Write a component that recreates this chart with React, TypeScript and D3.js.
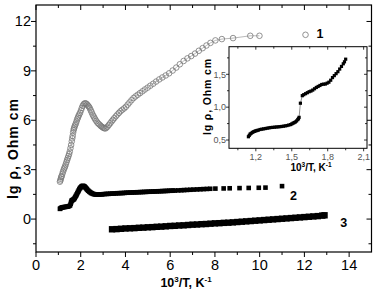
import React from "react";
import * as d3 from "d3";

// ---- data ----
const series1: [number, number][] = [
  [1.07,2.27],[1.09,2.35],[1.11,2.45],[1.13,2.55],[1.15,2.62],[1.18,2.75],[1.21,2.88],[1.24,3.0],[1.27,3.1],[1.3,3.2],
  [1.33,3.32],[1.36,3.45],[1.39,3.58],[1.42,3.7],[1.45,3.82],[1.48,3.95],[1.51,4.1],[1.54,4.3],[1.57,4.5],[1.6,4.72],
  [1.62,4.9],[1.64,5.05],[1.66,5.25],[1.68,5.4],[1.7,5.5],[1.72,5.6],[1.75,5.7],[1.78,5.8],[1.81,5.92],[1.84,6.05],
  [1.87,6.15],[1.9,6.25],[1.93,6.35],[1.97,6.45],[2.01,6.6],[2.05,6.75],[2.09,6.88],[2.13,6.97],[2.17,7.02],[2.21,7.03],
  [2.25,7.0],[2.29,6.95],[2.33,6.88],[2.37,6.82],[2.41,6.72],[2.45,6.6],[2.49,6.48],[2.53,6.35],[2.57,6.25],[2.61,6.15],
  [2.65,6.05],[2.7,5.95],[2.75,5.85],[2.8,5.78],[2.85,5.72],[2.9,5.65],[2.95,5.6],[3.0,5.55],[3.05,5.52],[3.1,5.5],
  [3.15,5.55],[3.2,5.62],[3.26,5.72],[3.32,5.82],[3.38,5.93],[3.44,6.03],[3.5,6.13],[3.57,6.24],[3.64,6.35],[3.71,6.45],
  [3.78,6.55],[3.86,6.64],[3.94,6.72],[4.02,6.82],[4.1,6.95],[4.18,7.08],[4.27,7.22],[4.36,7.35],[4.45,7.45],[4.55,7.55],
  [4.65,7.65],[4.76,7.76],[4.87,7.87],[4.99,7.98],[5.11,8.1],[5.24,8.22],[5.37,8.35],[5.51,8.48],[5.65,8.6],[5.8,8.72],
  [5.95,8.85],[6.11,9.02],[6.27,9.2],[6.43,9.4],[6.6,9.6],[6.77,9.76],[6.94,9.9],[7.11,10.05],[7.28,10.22],[7.45,10.38],
  [7.62,10.54],[7.8,10.7],[8.02,10.85],[8.31,10.93],[8.81,10.99],[9.58,11.13],[9.99,11.13],
];

const series2: [number, number][] = [
  [1.07,0.62],[1.1,0.66],[1.14,0.69],[1.18,0.71],[1.22,0.72],[1.27,0.73],[1.32,0.74],[1.37,0.75],[1.42,0.76],[1.47,0.78],
  [1.52,0.82],[1.55,0.92],[1.57,1.02],[1.59,1.1],[1.61,1.14],[1.64,1.16],[1.67,1.18],[1.7,1.22],[1.73,1.28],[1.76,1.35],
  [1.79,1.42],[1.82,1.5],[1.85,1.58],[1.88,1.66],[1.91,1.74],[1.94,1.82],[1.97,1.88],[2.0,1.93],[2.03,1.97],[2.06,2.0],
  [2.09,2.01],[2.12,2.01],[2.15,1.99],[2.18,1.96],[2.21,1.92],[2.24,1.87],[2.27,1.82],[2.3,1.77],[2.34,1.72],[2.38,1.67],
  [2.42,1.63],[2.46,1.59],[2.5,1.56],[2.55,1.53],[2.6,1.51],[2.65,1.5],[2.7,1.49],[2.76,1.49],[2.82,1.49],[2.88,1.5],
  [2.94,1.5],[3.0,1.51],[3.08,1.52],[3.16,1.53],[3.24,1.53],[3.32,1.54],[3.4,1.55],[3.48,1.55],[3.56,1.56],[3.64,1.57],
  [3.72,1.57],[3.8,1.58],[3.88,1.58],[3.96,1.59],[4.04,1.6],[4.12,1.6],[4.2,1.61],[4.28,1.61],[4.36,1.62],[4.44,1.62],
  [4.52,1.63],[4.6,1.63],[4.68,1.64],[4.76,1.64],[4.84,1.65],[4.92,1.65],[5.0,1.66],[5.08,1.66],[5.16,1.67],[5.24,1.67],
  [5.32,1.68],[5.4,1.68],[5.48,1.69],[5.56,1.69],[5.64,1.7],[5.72,1.7],[5.8,1.71],[5.88,1.71],[5.96,1.72],[6.04,1.72],
  [6.12,1.73],[6.2,1.73],[6.36,1.74],[6.5,1.75],[6.62,1.76],[6.75,1.77],[6.9,1.78],[7.04,1.79],[7.2,1.8],[7.35,1.81],
  [7.49,1.82],[7.64,1.83],[7.79,1.84],[8.02,1.85],[8.39,1.86],[8.66,1.87],[9.1,1.88],[9.51,1.89],[9.96,1.9],[10.26,1.91],
  [11.0,2.0],
];

const series3: [number, number][] = [
  [3.4,-0.62],[3.6,-0.61],[3.8,-0.59],[4.0,-0.57],[4.2,-0.56],[4.4,-0.55],[4.6,-0.53],[4.8,-0.52],[5.0,-0.5],[5.2,-0.49],
  [5.4,-0.47],[5.6,-0.46],[5.8,-0.44],[6.0,-0.42],[6.2,-0.41],[6.4,-0.39],[6.6,-0.38],[6.8,-0.36],[7.0,-0.34],[7.2,-0.33],
  [7.4,-0.31],[7.6,-0.3],[7.8,-0.28],[8.0,-0.26],[8.2,-0.25],[8.4,-0.23],[8.6,-0.22],[8.8,-0.2],[9.0,-0.18],[9.2,-0.16],
  [9.4,-0.14],[9.6,-0.12],[9.8,-0.1],[10.0,-0.08],[10.2,-0.06],[10.4,-0.04],[10.6,-0.02],[10.8,0.0],[11.0,0.02],[11.2,0.04],
  [11.4,0.06],[11.6,0.08],[11.8,0.1],[12.0,0.12],[12.2,0.14],[12.4,0.16],[12.6,0.18],[12.8,0.21],[12.9,0.23],
];

const insetSeries: [number, number][] = [
  [1.138,0.55],[1.145,0.57],[1.152,0.59],[1.16,0.6],[1.17,0.615],[1.18,0.625],[1.19,0.632],[1.2,0.64],[1.21,0.645],[1.22,0.65],
  [1.235,0.66],[1.25,0.665],[1.265,0.67],[1.28,0.675],[1.295,0.68],[1.31,0.685],[1.325,0.69],[1.34,0.692],[1.355,0.695],[1.37,0.698],
  [1.385,0.7],[1.4,0.703],[1.415,0.706],[1.43,0.71],[1.445,0.715],[1.46,0.72],[1.475,0.728],[1.49,0.735],[1.5,0.745],[1.51,0.755],
  [1.52,0.765],[1.53,0.775],[1.54,0.79],[1.55,0.81],[1.556,0.825],[1.561,0.845],[1.572,1.06],[1.588,1.175],[1.6,1.19],[1.615,1.205],
  [1.63,1.22],[1.645,1.235],[1.66,1.245],[1.675,1.26],[1.69,1.28],[1.705,1.3],[1.72,1.315],[1.735,1.33],[1.75,1.345],[1.765,1.35],
  [1.78,1.352],[1.795,1.365],[1.81,1.38],[1.825,1.41],[1.84,1.45],[1.855,1.48],[1.87,1.51],[1.885,1.54],[1.9,1.58],[1.915,1.62],
  [1.93,1.66],[1.94,1.69],[1.95,1.73],
];

const legend1: [number, number] = [12.05, 11.19];

const xTicksMain = [0, 2, 4, 6, 8, 10, 12, 14];
const xMinorMain = [1, 3, 5, 7, 9, 11, 13];
const yTicksMain = [0, 3, 6, 9, 12];
const yMinorMain = [-1.5, 1.5, 4.5, 7.5, 10.5];
const xTicksInset = [1.2, 1.5, 1.8, 2.1];
const xMinorInset = [1.05, 1.35, 1.65, 1.95];
const yTicksInset = [0.5, 1.0, 1.5];
const yMinorInset = [0.75, 1.25, 1.75];
const fmtComma = (v: number) => v.toFixed(1).replace(".", ",");

const FONT = "'Liberation Sans', Arial, sans-serif";

export default function App() {
  // main frame
  const L = 36, R = 371.5, T = 5, B = 252;
  const x = d3.scaleLinear().domain([0, 15]).range([L, R]);
  const y = d3.scaleLinear().domain([-2, 13]).range([B, T]);

  // inset frame
  const iL = 229, iR = 367, iT = 46.7, iB = 148.3;
  const ix = d3.scaleLinear().domain([0.976, 2.128]).range([iL, iR]);
  const iy = d3.scaleLinear().domain([0.374, 1.92]).range([iB, iT]);

  const line1 = d3.line<[number, number]>().x((d) => x(d[0])).y((d) => y(d[1]));
  const lineIn = d3.line<[number, number]>().x((d) => ix(d[0])).y((d) => iy(d[1]));

  const maj = 5, min = 3;

  return (
    <div style={{ position: "absolute", left: 0, top: 0 }}>
      <svg width={376} height={297} style={{ display: "block", background: "#fff" }} fontFamily={FONT}>
        <rect x={0} y={0} width={376} height={297} fill="#fff" />

        {/* series 1 */}
        <path d={line1(series1) || ""} fill="none" stroke="#888" strokeWidth={0.6} />
        {series1.map((d, i) => (
          <circle key={"c1" + i} cx={x(d[0])} cy={y(d[1])} r={2.8} fill="none" stroke="#777" strokeWidth={0.8} />
        ))}
        {/* series 2 */}
        {series2.map((d, i) => (
          <rect key={"s2" + i} x={x(d[0]) - 2.3} y={y(d[1]) - 2.3} width={4.6} height={4.6} fill="#000" />
        ))}
        {/* series 3 */}
        {series3.map((d, i) => (
          <rect key={"s3" + i} x={x(d[0]) - 3.2} y={y(d[1]) - 3.2} width={6.4} height={6.4} fill="#000" />
        ))}

        {/* labels */}
        <circle cx={x(legend1[0])} cy={y(legend1[1])} r={2.8} fill="none" stroke="#777" strokeWidth={0.8} />
        <text x={320} y={38} fontSize={12.5} fontWeight="bold" textAnchor="middle">1</text>
        <text x={293.5} y={200} fontSize={12.5} fontWeight="bold" textAnchor="middle">2</text>
        <text x={343.7} y={227} fontSize={12.5} fontWeight="bold" textAnchor="middle">3</text>

        {/* main frame */}
        <rect x={L} y={T} width={R - L} height={B - T} fill="none" stroke="#000" strokeWidth={1.2} />
        {xTicksMain.map((t) => (
          <g key={"xt" + t}>
            <line x1={x(t)} x2={x(t)} y1={B} y2={B + maj} stroke="#000" strokeWidth={1} />
            <line x1={x(t)} x2={x(t)} y1={T} y2={T + maj} stroke="#000" strokeWidth={1} />
            <text x={x(t)} y={270} fontSize={14.5} textAnchor="middle">{t}</text>
          </g>
        ))}
        {xMinorMain.map((t) => (
          <g key={"xm" + t}>
            <line x1={x(t)} x2={x(t)} y1={B} y2={B + min} stroke="#000" strokeWidth={1} />
            <line x1={x(t)} x2={x(t)} y1={T} y2={T + min} stroke="#000" strokeWidth={1} />
          </g>
        ))}
        {yTicksMain.map((t) => (
          <g key={"yt" + t}>
            <line x1={L - maj} x2={L} y1={y(t)} y2={y(t)} stroke="#000" strokeWidth={1} />
            <line x1={R - maj} x2={R} y1={y(t)} y2={y(t)} stroke="#000" strokeWidth={1} />
            <text x={31} y={y(t) + 5} fontSize={14.5} textAnchor="end">{t}</text>
          </g>
        ))}
        {yMinorMain.map((t) => (
          <g key={"ym" + t}>
            <line x1={L - min} x2={L} y1={y(t)} y2={y(t)} stroke="#000" strokeWidth={1} />
            <line x1={R - min} x2={R} y1={y(t)} y2={y(t)} stroke="#000" strokeWidth={1} />
          </g>
        ))}
        <text x={186} y={287} fontSize={12.5} fontWeight="bold" textAnchor="middle">
          10<tspan dy={-5} fontSize={8}>3</tspan><tspan dy={5}>/T, K</tspan><tspan dy={-5} fontSize={8}>-1</tspan>
        </text>
        <text transform="translate(18,149) rotate(-90)" fontSize={14} fontWeight="bold" textAnchor="middle"
          textLength={100} lengthAdjust="spacing">lg ρ, Ohm cm</text>

        {/* inset */}
        <rect x={iL} y={iT} width={iR - iL} height={iB - iT} fill="#fff" />
        <path d={lineIn(insetSeries) || ""} fill="none" stroke="#444" strokeWidth={0.6} />
        {insetSeries.map((d, i) => (
          <rect key={"in" + i} x={ix(d[0]) - 1.6} y={iy(d[1]) - 1.6} width={3.2} height={3.2} fill="#000" />
        ))}
        <rect x={iL} y={iT} width={iR - iL} height={iB - iT} fill="none" stroke="#000" strokeWidth={1} />
        {xTicksInset.map((t) => (
          <g key={"ixt" + t}>
            <line x1={ix(t)} x2={ix(t)} y1={iB} y2={iB + 3} stroke="#000" strokeWidth={0.8} />
            <line x1={ix(t)} x2={ix(t)} y1={iT} y2={iT + 3} stroke="#000" strokeWidth={0.8} />
            <text x={ix(t)} y={160} fontSize={9} textAnchor="middle" fill="#555">{fmtComma(t)}</text>
          </g>
        ))}
        {xMinorInset.map((t) => (
          <g key={"ixm" + t}>
            <line x1={ix(t)} x2={ix(t)} y1={iB} y2={iB + 2} stroke="#000" strokeWidth={0.8} />
            <line x1={ix(t)} x2={ix(t)} y1={iT} y2={iT + 2} stroke="#000" strokeWidth={0.8} />
          </g>
        ))}
        {yTicksInset.map((t) => (
          <g key={"iyt" + t}>
            <line x1={iL - 3} x2={iL} y1={iy(t)} y2={iy(t)} stroke="#000" strokeWidth={0.8} />
            <line x1={iR - 3} x2={iR} y1={iy(t)} y2={iy(t)} stroke="#000" strokeWidth={0.8} />
            <text x={226} y={iy(t) + 3.2} fontSize={9} textAnchor="end" fill="#555">{fmtComma(t)}</text>
          </g>
        ))}
        {yMinorInset.map((t) => (
          <g key={"iym" + t}>
            <line x1={iL - 2} x2={iL} y1={iy(t)} y2={iy(t)} stroke="#000" strokeWidth={0.8} />
            <line x1={iR - 2} x2={iR} y1={iy(t)} y2={iy(t)} stroke="#000" strokeWidth={0.8} />
          </g>
        ))}
        <text x={311} y={171} fontSize={10} fontWeight="bold" textAnchor="middle">
          10<tspan dy={-4} fontSize={6.5}>3</tspan><tspan dy={4}>/T, K</tspan><tspan dy={-4} fontSize={6.5}>-1</tspan>
        </text>
        <text transform="translate(210.5,97) rotate(-90)" fontSize={10.5} fontWeight="bold" textAnchor="middle"
          textLength={76} lengthAdjust="spacing">lg ρ, Ohm cm</text>
      </svg>
    </div>
  );
}
